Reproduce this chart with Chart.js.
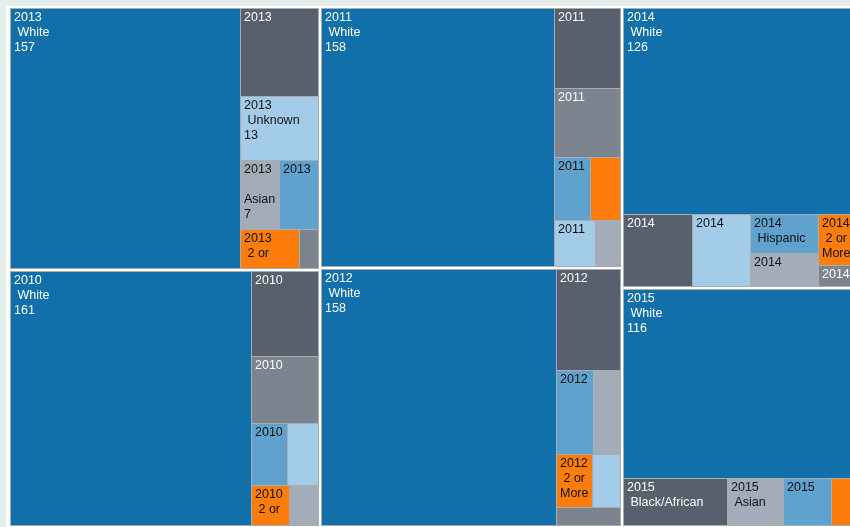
<!DOCTYPE html>
<html>
<head>
<meta charset="utf-8">
<script src="https://cdn.jsdelivr.net/npm/chart.js@4.4.1/dist/chart.umd.min.js"></script>
<style>
  html, body { margin: 0; padding: 0; overflow: hidden; background: #e4eeec; }
  #wrap { width: 858px; height: 527px; }
</style>
</head>
<body>
<div id="wrap"><canvas id="chart" width="858" height="527"></canvas></div>
<script>
// Enrollment by year and ethnicity
const years = ['2010', '2011', '2012', '2013', '2014', '2015']
const categories = ['2 or More', 'Asian', 'Black/African', 'Hispanic', 'Nonresident Alien', 'Unknown', 'White']

const twoOrMore   = [4, 5, 5, 6, 5, 3]
const asian       = [3, 3, 6, 7, 6, 7]
const black       = [15, 14, 17, 18, 13, 13]
const hispanic    = [6, 6, 8, 7, 7, 6]
const nonresident = [12, 12, 3, 2, 2, 0]
const unknown     = [5, 5, 4, 13, 11, 0]
const white       = [161, 158, 158, 157, 126, 116]

const series = [twoOrMore, asian, black, hispanic, nonresident, unknown, white]

// Tableau colour blind palette
const colors = ['#fc7d0b', '#a3acb9', '#57606c', '#5fa2ce', '#7b848f', '#a3cce9', '#1170aa']
const darkText = [false, false, true, false, true, false, true]

const PHI = (1 + Math.sqrt(5)) / 2
const FONT = '12.5px "Liberation Sans", Arial, sans-serif'

// squarify layout (same rule as d3.treemapSquarify)
function squarify(nodes, x0, y0, x1, y1) {
  let value = nodes.reduce((s, n) => s + n.value, 0)
  let i0 = 0, i1 = 0
  const n = nodes.length
  while (i0 < n) {
    const dx = x1 - x0, dy = y1 - y0
    let sumValue = nodes[i1++].value
    let minValue = sumValue, maxValue = sumValue
    const alpha = Math.max(dy / dx, dx / dy) / (value * PHI)
    let beta = sumValue * sumValue * alpha
    let minRatio = Math.max(maxValue / beta, beta / minValue)
    for (; i1 < n; ++i1) {
      const v = nodes[i1].value
      sumValue += v
      if (v < minValue) minValue = v
      if (v > maxValue) maxValue = v
      beta = sumValue * sumValue * alpha
      const newRatio = Math.max(maxValue / beta, beta / minValue)
      if (newRatio > minRatio) { sumValue -= v; break }
      minRatio = newRatio
    }
    const row = nodes.slice(i0, i1)
    if (dx < dy) {
      const ny = value ? y0 + dy * sumValue / value : y1
      let x = x0
      const k = (x1 - x0) / sumValue
      row.forEach(nd => { nd.x0 = x; x += nd.value * k; nd.x1 = x; nd.y0 = y0; nd.y1 = ny })
      y0 = ny
    } else {
      const nx = value ? x0 + dx * sumValue / value : x1
      let y = y0
      const k = (y1 - y0) / sumValue
      row.forEach(nd => { nd.y0 = y; y += nd.value * k; nd.y1 = y; nd.x0 = x0; nd.x1 = nx })
      x0 = nx
    }
    value -= sumValue
    i0 = i1
  }
}

function sortDesc(arr) {
  return arr.map((d, i) => ({ d, i }))
    .sort((a, b) => (b.d.value - a.d.value) || (a.i - b.i))
    .map(o => o.d)
}

function wrapLine(ctx, line, maxW) {
  if (ctx.measureText(line).width <= maxW) return { lines: [line], ok: true }
  const words = line.split(' ')
  const out = []
  let cur = words[0]
  for (let i = 1; i < words.length; i++) {
    const test = cur + ' ' + words[i]
    if (ctx.measureText(test).width <= maxW) {
      cur = test
    } else {
      out.push(cur)
      cur = words[i]
    }
  }
  out.push(cur)
  const good = []
  for (const l of out) {
    if (ctx.measureText(l).width > maxW) return { lines: good, ok: false }
    good.push(l)
  }
  return { lines: good, ok: true }
}

const treemapPlugin = {
  id: 'treemap',
  beforeDraw(chart) {
    const { ctx, chartArea } = chart
    ctx.save()
    ctx.fillStyle = '#e4eeec'
    ctx.fillRect(0, 0, chart.width, chart.height)
    ctx.fillStyle = '#ffffff'
    ctx.fillRect(chartArea.left - 3, chartArea.top - 1, chart.width, chart.height)
    ctx.restore()
  },
  afterDatasetsDraw(chart) {
    const { ctx } = chart
    const xs = chart.scales.x, ys = chart.scales.y
    const left = xs.getPixelForValue(0), right = xs.getPixelForValue(1)
    const top = ys.getPixelForValue(0), bottom = ys.getPixelForValue(1)

    const groups = sortDesc(years.map((year, yi) => ({
      year,
      value: series.reduce((s, arr) => s + arr[yi], 0),
      cells: series.map((arr, ci) => ({ ci, value: arr[yi] })).filter(c => c.value > 0)
    })))
    squarify(groups, left, top, right, bottom)

    ctx.save()
    ctx.font = FONT
    ctx.textBaseline = 'top'
    groups.forEach(g => {
      const gx0 = Math.round(g.x0) + 1, gy0 = Math.round(g.y0) + 1
      const gx1 = Math.round(g.x1) - 1, gy1 = Math.round(g.y1) - 1
      ctx.fillStyle = '#a9adb2'
      ctx.fillRect(gx0, gy0, gx1 - gx0, gy1 - gy0)

      const cells = sortDesc(g.cells)
      squarify(cells, gx0 + 1, gy0 + 1, gx1, gy1)
      cells.forEach(c => {
        const cx0 = Math.round(c.x0), cy0 = Math.round(c.y0)
        const cx1 = Math.round(c.x1), cy1 = Math.round(c.y1)
        ctx.fillStyle = colors[c.ci]
        ctx.fillRect(cx0, cy0, cx1 - cx0 - 1, cy1 - cy0 - 1)

        // label lines: year, category, value
        const maxW = cx1 - cx0 - 7
        const raw = [g.year, ' ' + categories[c.ci], String(c.value)]
        const lines = []
        for (const r of raw) {
          const w = wrapLine(ctx, r, maxW)
          lines.push(...w.lines)
          if (!w.ok) break
        }
        ctx.fillStyle = darkText[c.ci] ? '#ffffff' : '#111111'
        for (let i = 0; i < lines.length; i++) {
          if (cy0 + 5 + 15 * (i + 1) > cy1) break
          ctx.fillText(lines[i], cx0 + 3, cy0 + 2 + 15 * i)
        }
      })
    })
    ctx.restore()
  }
}

new Chart(document.getElementById('chart'), {
  type: 'scatter',
  data: { datasets: [] },
  options: {
    responsive: false,
    animation: false,
    layout: { padding: { left: 9, top: 7, right: 1, bottom: 0 } },
    plugins: { legend: { display: false }, tooltip: { enabled: false } },
    scales: {
      x: { type: 'linear', min: 0, max: 1, display: false },
      y: { type: 'linear', min: 0, max: 1, reverse: true, display: false }
    }
  },
  plugins: [treemapPlugin]
})
</script>
</body>
</html>
